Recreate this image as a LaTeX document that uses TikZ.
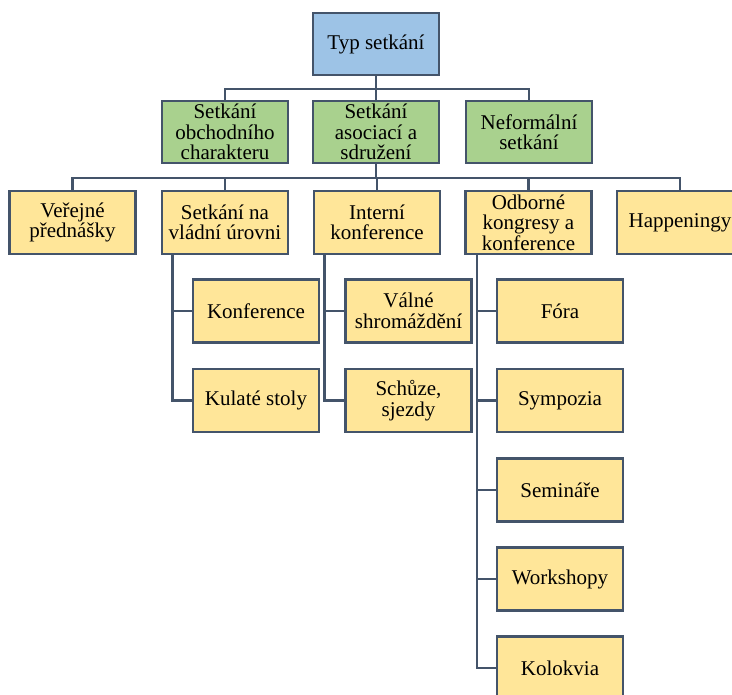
\documentclass[tikz,border=0pt]{standalone}
\usepackage{fontspec}
\setmainfont{Liberation Serif}
\definecolor{edge}{HTML}{44546A}
\definecolor{topblue}{HTML}{9DC3E6}
\definecolor{midgreen}{HTML}{A9D18E}
\definecolor{lowyellow}{HTML}{FFE699}
\tikzstyle{box}+=[draw=edge,line width=2.8pt,inner sep=0pt,align=center,minimum width=126pt,minimum height=62pt,font=\fontsize{21}{20.5}\selectfont]
\tikzstyle{B}+=[box,fill=topblue]
\tikzstyle{G}+=[box,fill=midgreen]
\tikzstyle{Y}+=[box,fill=lowyellow,minimum height=63pt]
\tikzstyle{conn}+=[draw=edge,line width=2.6pt]

\begin{document}
\begin{tikzpicture}[x=1pt,y=-1pt]
        \useasboundingbox (0,0) rectangle (732,695);

        \begin{scope}
            \node[B] (typ) at (376,44) {Typ setkání};
            \node[G] (obch) at (225,132) {Setkání\\obchodního\\charakteru};
            \node[G] (asoc) at (376,132) {Setkání\\asociací a\\sdružení};
            \node[G] (neform) at (529,132) {Neformální\\setkání};
            \coordinate (b1) at (0,89);
            \foreach \n in {obch,asoc,neform}
                \draw[conn] (typ.south) -- (typ.south |- b1) -| (\n.north);
        \end{scope}

        \begin{scope}
            \node[Y] (ver) at (72.5,222.5) {Veřejné\\přednášky};
            \node[Y] (vlad) at (225,222.5) {Setkání na\\vládní úrovni};
            \node[Y] (intern) at (377,222.5) {Interní\\konference};
            \node[Y] (odb) at (528.5,222.5) {Odborné\\kongresy a\\konference};
            \node[Y] (happ) at (680,222.5) {Happeningy};
            \coordinate (b2) at (0,178);
            \foreach \n in {ver,vlad,intern,odb,happ}
                \draw[conn] (asoc.south) -- (asoc.south |- b2) -| (\n.north);
        \end{scope}

        \begin{scope}
            \node[Y] (konf) at (256,311) {Konference};
            \node[Y] (kulat) at (256,400.5) {Kulaté stoly};
            \foreach \n in {konf,kulat}
                \draw[conn] ([xshift=12pt]vlad.south west) |- (\n.west);
        \end{scope}

        \begin{scope}
            \node[Y] (valne) at (408.5,311) {Válné\\shromáždění};
            \node[Y] (schuze) at (408.5,400.5) {Schůze,\\sjezdy};
            \foreach \n in {valne,schuze}
                \draw[conn] ([xshift=12pt]intern.south west) |- (\n.west);
        \end{scope}

        \begin{scope}
            \node[Y] (fora) at (560,311) {Fóra};
            \node[Y] (symp) at (560,400.5) {Sympozia};
            \node[Y] (semin) at (560,490) {Semináře};
            \node[Y] (works) at (560,579) {Workshopy};
            \node[Y] (kolok) at (560,668) {Kolokvia};
            \foreach \n in {fora,symp,semin,works,kolok}
                \draw[conn] ([xshift=13pt]odb.south west) |- (\n.west);
        \end{scope}

    \end{tikzpicture}
\end{document}
